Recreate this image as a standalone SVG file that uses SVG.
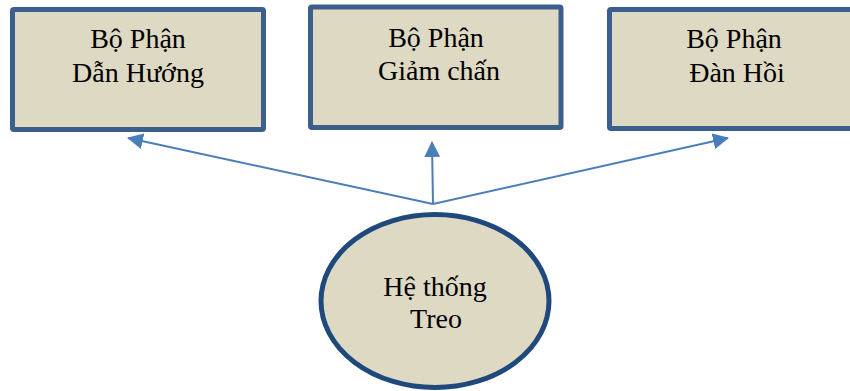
<svg xmlns="http://www.w3.org/2000/svg" width="850" height="391" viewBox="0 0 850 391">
<defs>
<style>
.box{fill:#ddd9c3;stroke:#3b5e8c;stroke-width:5;stroke-linejoin:round}
.ell{fill:#ddd9c3;stroke:#1f497d;stroke-width:5}
.lbl{font-family:"Liberation Serif","Times New Roman",serif;font-size:28px;fill:#000;text-anchor:middle}
.conn{stroke:#4a7ebb;stroke-width:2;fill:none;marker-end:url(#ah)}
</style>
<marker id="ah" markerUnits="userSpaceOnUse" markerWidth="16" markerHeight="16" viewBox="0 0 16 16" refX="15" refY="8" orient="auto">
<path d="M0,0 L16,8 L0,16 Z" fill="#4a7ebb"/>
</marker>
</defs>
<rect width="850" height="391" fill="#ffffff"/>
<g id="connectors">
<line class="conn" x1="433" y1="204" x2="128" y2="138"/>
<line class="conn" x1="433" y1="204" x2="432" y2="142"/>
<line class="conn" x1="433" y1="204" x2="728" y2="138"/>
</g>
<g id="node-dan-huong">
<rect class="box" x="12.5" y="9.5" width="251" height="120" rx="1.5"/>
<text class="lbl" x="138" y="48">Bộ Phận</text>
<text class="lbl" x="138" y="82">Dẫn Hướng</text>
</g>
<g id="node-giam-chan">
<rect class="box" x="310.5" y="7" width="250.5" height="120.5" rx="1.5"/>
<text class="lbl" x="436" y="47">Bộ Phận</text>
<text class="lbl" x="439" y="80">Giảm chấn</text>
</g>
<g id="node-dan-hoi">
<rect class="box" x="609.5" y="9.5" width="251" height="119" rx="1.5"/>
<text class="lbl" x="734" y="48">Bộ Phận</text>
<text class="lbl" x="737" y="82">Đàn Hồi</text>
</g>
<g id="node-he-thong-treo">
<ellipse class="ell" cx="435" cy="301" rx="114" ry="86.5"/>
<text class="lbl" x="435" y="296">Hệ thống</text>
<text class="lbl" x="436" y="328">Treo</text>
</g>
</svg>
